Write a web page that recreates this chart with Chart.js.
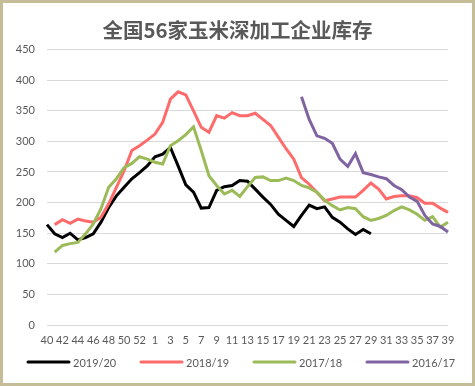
<!DOCTYPE html>
<html>
<head>
<meta charset="utf-8">
<script src="https://cdn.jsdelivr.net/npm/chart.js@4"></script>
<style>
  body { margin: 0; background: #fff; }
  #marco { width: 475px; height: 386px; box-sizing: border-box; border: 3px solid #c4bd97; background: #fff; }
  canvas { display: block; }
</style>
</head>
<body>
<div id="marco"><canvas id="grafico" width="469" height="380"></canvas></div>
<script>
// semanas: 40..53 y 1..39
const semanas = ['40','41','42','43','44','45','46','47','48','49','50','51','52','53',
  '1','2','3','4','5','6','7','8','9','10','11','12','13','14','15','16','17','18','19','20',
  '21','22','23','24','25','26','27','28','29','30','31','32','33','34','35','36','37','38','39'];

const ticksY = [0, 50, 100, 150, 200, 250, 300, 350, 400, 450];

const stock1920 = [164,149,143,150,139,143,149,168,192,211,
  225,239,249,260,275,279,290,260,229,217,
  191,192,220,226,228,236,235,222,209,197,
  181,171,161,179,196,190,193,176,168,157,
  148,156,149,null,null,null,null,null,null,null,
  null,null,null];

const stock1819 = [null,164,172,166,173,170,168,176,198,225,
  252,285,293,302,312,331,369,381,376,350,
  323,315,342,338,347,342,342,346,336,326,
  307,288,271,241,230,217,203,206,209,209,
  209,220,232,222,206,210,211,211,208,199,
  199,191,184];

const stock1718 = [null,119,130,133,135,149,165,190,225,239,
  257,264,275,271,266,263,293,301,311,324,
  285,244,228,214,220,210,226,241,242,236,
  236,240,236,228,224,217,204,195,188,192,
  190,177,171,174,179,187,193,188,181,171,
  177,160,168];

const stock1617 = [null,null,null,null,null,null,null,null,null,null,
  null,null,null,null,null,null,null,null,null,null,
  null,null,null,null,null,null,null,null,null,null,
  null,null,null,373,336,309,305,297,271,259,
  280,249,246,242,239,228,221,209,202,179,
  165,161,152];

const series = ['2019/20', '2018/19', '2017/18', '2016/17'];
const colores = ['#000000', '#ff6b6b', '#9bbb59', '#8064a2'];

// leyenda propia: linea + texto, espaciado como en Excel
const leyenda = {
  id: 'leyenda',
  afterDraw(chart) {
    const ctx = chart.ctx;
    const y = 359;
    ctx.save();
    ctx.font = '11px Lato';
    ctx.textBaseline = 'middle';
    ctx.lineCap = 'round';
    chart.data.datasets.forEach((ds, i) => {
      const x = 25 + i * 113;
      ctx.strokeStyle = ds.borderColor;
      ctx.lineWidth = 3;
      ctx.beginPath();
      ctx.moveTo(x, y);
      ctx.lineTo(x + 41, y);
      ctx.stroke();
      ctx.fillStyle = '#595959';
      ctx.fillText(ds.label, x + 45, y + 1);
    });
    ctx.restore();
  }
};

const datos = [stock1920, stock1819, stock1718, stock1617];

new Chart(document.getElementById('grafico'), {
  type: 'line',
  data: {
    labels: semanas,
    datasets: series.map((s, i) => ({
      label: s,
      data: datos[i],
      borderColor: colores[i],
      backgroundColor: colores[i],
      borderWidth: 3,
      pointRadius: 0,
      tension: 0,
      order: series.length - i
    }))
  },
  options: {
    responsive: false,
    animation: false,
    layout: { padding: { top: 5, right: 0, left: 0, bottom: 0 } },
    plugins: {
      legend: { display: false },
      tooltip: { enabled: false },
      title: {
        display: true,
        text: '全国56家玉米深加工企业库存',
        color: '#595959',
        font: { family: '"Noto Sans CJK SC", sans-serif', size: 20.5, weight: 'bold' },
        padding: { top: 10, bottom: 7 }
      }
    },
    scales: {
      x: {
        offset: false,
        grid: { display: false, drawTicks: false },
        border: { display: false },
        ticks: {
          autoSkip: false,
          maxRotation: 0,
          padding: 9,
          color: '#595959',
          font: { family: 'Lato', size: 11 },
          callback: (v, i) => (i % 2 === 0 ? semanas[i] : '')
        },
        afterFit: (scale) => { scale.height = 58; }
      },
      y: {
        min: 0,
        max: 450,
        afterBuildTicks: (scale) => { scale.ticks = ticksY.map(v => ({ value: v })); },
        grid: { color: '#d9d9d9', drawTicks: false },
        border: { display: false },
        ticks: {
          padding: 12,
          color: '#595959',
          font: { family: 'Lato', size: 11 }
        },
        afterFit: (scale) => { scale.width = 44; }
      },
      // eje vacio a la derecha, solo para dejar el margen
      margen: {
        position: 'right',
        grid: { display: false, drawTicks: false },
        border: { display: false },
        ticks: { display: false },
        afterFit: (scale) => { scale.width = 24; }
      }
    }
  },
  plugins: [leyenda]
});
</script>
</body>
</html>
